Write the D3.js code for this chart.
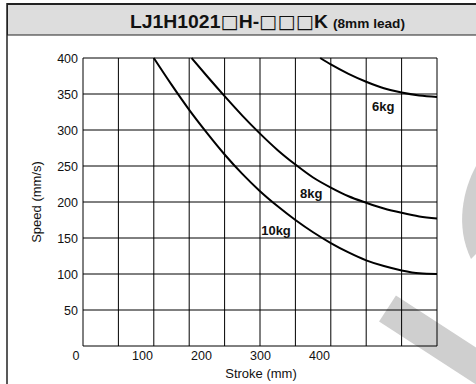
<!DOCTYPE html>
<html>
<head>
<meta charset="utf-8">
<script src="https://cdn.jsdelivr.net/npm/d3@7"></script>
<style>
  body { margin: 0; background: #fff; }
  svg { display: block; font-family: "Liberation Sans", Arial, sans-serif; }
</style>
</head>
<body>
<svg id="chart" width="476" height="384"></svg>
<script>
// title pieces; "box" parts are the thin placeholder squares
const titleParts = [
  ["LJ1H1021", false],
  ["\u25A1", true],
  ["H-", false],
  ["\u25A1\u25A1\u25A1", true],
  ["K", false],
];
const TITLE_SUB = "(8mm lead)";

const strokeTicks = [0, 100, 200, 300, 400];
const speedTicks = [50, 100, 150, 200, 250, 300, 350, 400];
const strokeGrid = [0, 60, 120, 180, 240, 300, 360, 420, 480, 540, 600];

const loads = ["10kg", "8kg", "6kg"];
const stroke10kg = [120, 150, 180, 210, 240, 270, 300, 330, 360, 390, 420, 450, 480, 510, 540, 570, 600];
const speed10kg = [400, 363, 328, 296, 266, 239, 215, 194, 175, 158, 143, 130, 119, 111, 105, 101, 100];
const stroke8kg = [184, 210, 240, 270, 300, 330, 360, 390, 420, 450, 480, 510, 540, 570, 600];
const speed8kg = [400, 375, 347, 320, 295, 272, 252, 234, 220, 208, 199, 191, 185, 180, 177];
const stroke6kg = [402, 420, 450, 480, 510, 540, 570, 600];
const speed6kg = [400, 391, 378, 367, 358, 352, 348, 346];

// where each load label sits, in chart units (stroke, speed)
const labelStroke = [302, 368, 490];
const labelSpeed = [154, 205, 326];

const svg = d3.select("#chart");

// frame and title bar
svg.append("rect")
  .attr("x", 7.5).attr("y", 4)
  .attr("width", 540).attr("height", 31)
  .attr("fill", "#dddddd")
  .attr("stroke", "#222").attr("stroke-width", 1);
svg.append("line")
  .attr("x1", 7).attr("x2", 476).attr("y1", 4).attr("y2", 4)
  .attr("stroke", "#222").attr("stroke-width", 1.8);
svg.append("line")
  .attr("x1", 7).attr("x2", 7).attr("y1", 3).attr("y2", 384)
  .attr("stroke", "#222").attr("stroke-width", 1.5);

const title = svg.append("text")
  .attr("x", 130).attr("y", 28)
  .attr("font-size", 19)
  .attr("textLength", 198)
  .attr("lengthAdjust", "spacingAndGlyphs")
  .attr("fill", "#111");
title.selectAll("tspan")
  .data(titleParts)
  .join("tspan")
  .attr("font-weight", (d) => (d[1] ? "normal" : "bold"))
  .attr("font-family", (d) => (d[1] ? "DejaVu Sans, sans-serif" : null))
  .text((d) => d[0]);

svg.append("text")
  .attr("x", 333).attr("y", 28)
  .attr("font-size", 13)
  .attr("font-weight", "bold")
  .attr("textLength", 72)
  .attr("lengthAdjust", "spacingAndGlyphs")
  .attr("fill", "#111")
  .text(TITLE_SUB);

// watermark
svg.append("line")
  .attr("x1", 387.5).attr("y1", 308.5)
  .attr("x2", 387.5 + 220 * Math.cos(33 * Math.PI / 180))
  .attr("y2", 308.5 + 220 * Math.sin(33 * Math.PI / 180))
  .attr("stroke", "#cfcfcf").attr("stroke-width", 31);
svg.append("path")
  .attr("d", "M476,166 C463,190 455,226 471,259 L476,254 Z")
  .attr("fill", "#cfcfcf");

const x = d3.scaleLinear().domain([0, 600]).range([83, 437]);
const y = d3.scaleLinear().domain([0, 400]).range([346, 58]);

const plot = svg.append("g");

// grid
plot.append("g").selectAll("line")
  .data(strokeGrid)
  .join("line")
  .attr("x1", (d) => x(d)).attr("x2", (d) => x(d))
  .attr("y1", y(0)).attr("y2", y(400))
  .attr("stroke", "#000").attr("stroke-width", 1);
plot.append("g").selectAll("line")
  .data([0].concat(speedTicks))
  .join("line")
  .attr("x1", x(0)).attr("x2", x(600))
  .attr("y1", (d) => y(d)).attr("y2", (d) => y(d))
  .attr("stroke", "#000").attr("stroke-width", 1);

// axes (labels only)
const xAxis = plot.append("g")
  .attr("transform", `translate(0,${y(0)})`)
  .call(d3.axisBottom(x).tickValues(strokeTicks).tickSize(0).tickPadding(5));
xAxis.select(".domain").remove();
xAxis.selectAll("text")
  .attr("font-size", 12.5)
  .attr("font-family", "Liberation Sans, Arial, sans-serif")
  .attr("fill", "#111");
xAxis.selectAll(".tick").filter((d) => d === 0).select("text")
  .attr("text-anchor", "end").attr("dx", -4);

const yAxis = plot.append("g")
  .attr("transform", `translate(${x(0)},0)`)
  .call(d3.axisLeft(y).tickValues(speedTicks).tickSize(0).tickPadding(5));
yAxis.select(".domain").remove();
yAxis.selectAll("text")
  .attr("font-size", 12.5)
  .attr("font-family", "Liberation Sans, Arial, sans-serif")
  .attr("fill", "#111");

svg.append("text")
  .attr("x", 261).attr("y", 378)
  .attr("text-anchor", "middle")
  .attr("font-size", 13)
  .attr("fill", "#111")
  .text("Stroke (mm)");
svg.append("text")
  .attr("transform", `translate(41,${(y(0) + y(400)) / 2}) rotate(-90)`)
  .attr("text-anchor", "middle")
  .attr("font-size", 13)
  .attr("fill", "#111")
  .text("Speed (mm/s)");

// curves
const series = [
  d3.zip(stroke10kg, speed10kg),
  d3.zip(stroke8kg, speed8kg),
  d3.zip(stroke6kg, speed6kg),
];
const line = d3.line()
  .x((d) => x(d[0]))
  .y((d) => y(d[1]))
  .curve(d3.curveMonotoneX);

plot.append("g").selectAll("path")
  .data(series)
  .join("path")
  .attr("d", line)
  .attr("fill", "none")
  .attr("stroke", "#000")
  .attr("stroke-width", 2);

plot.append("g").selectAll("text")
  .data(loads)
  .join("text")
  .attr("x", (d, i) => x(labelStroke[i]))
  .attr("y", (d, i) => y(labelSpeed[i]))
  .attr("font-size", 13)
  .attr("font-weight", "bold")
  .attr("fill", "#111")
  .text((d) => d);
</script>
</body>
</html>
